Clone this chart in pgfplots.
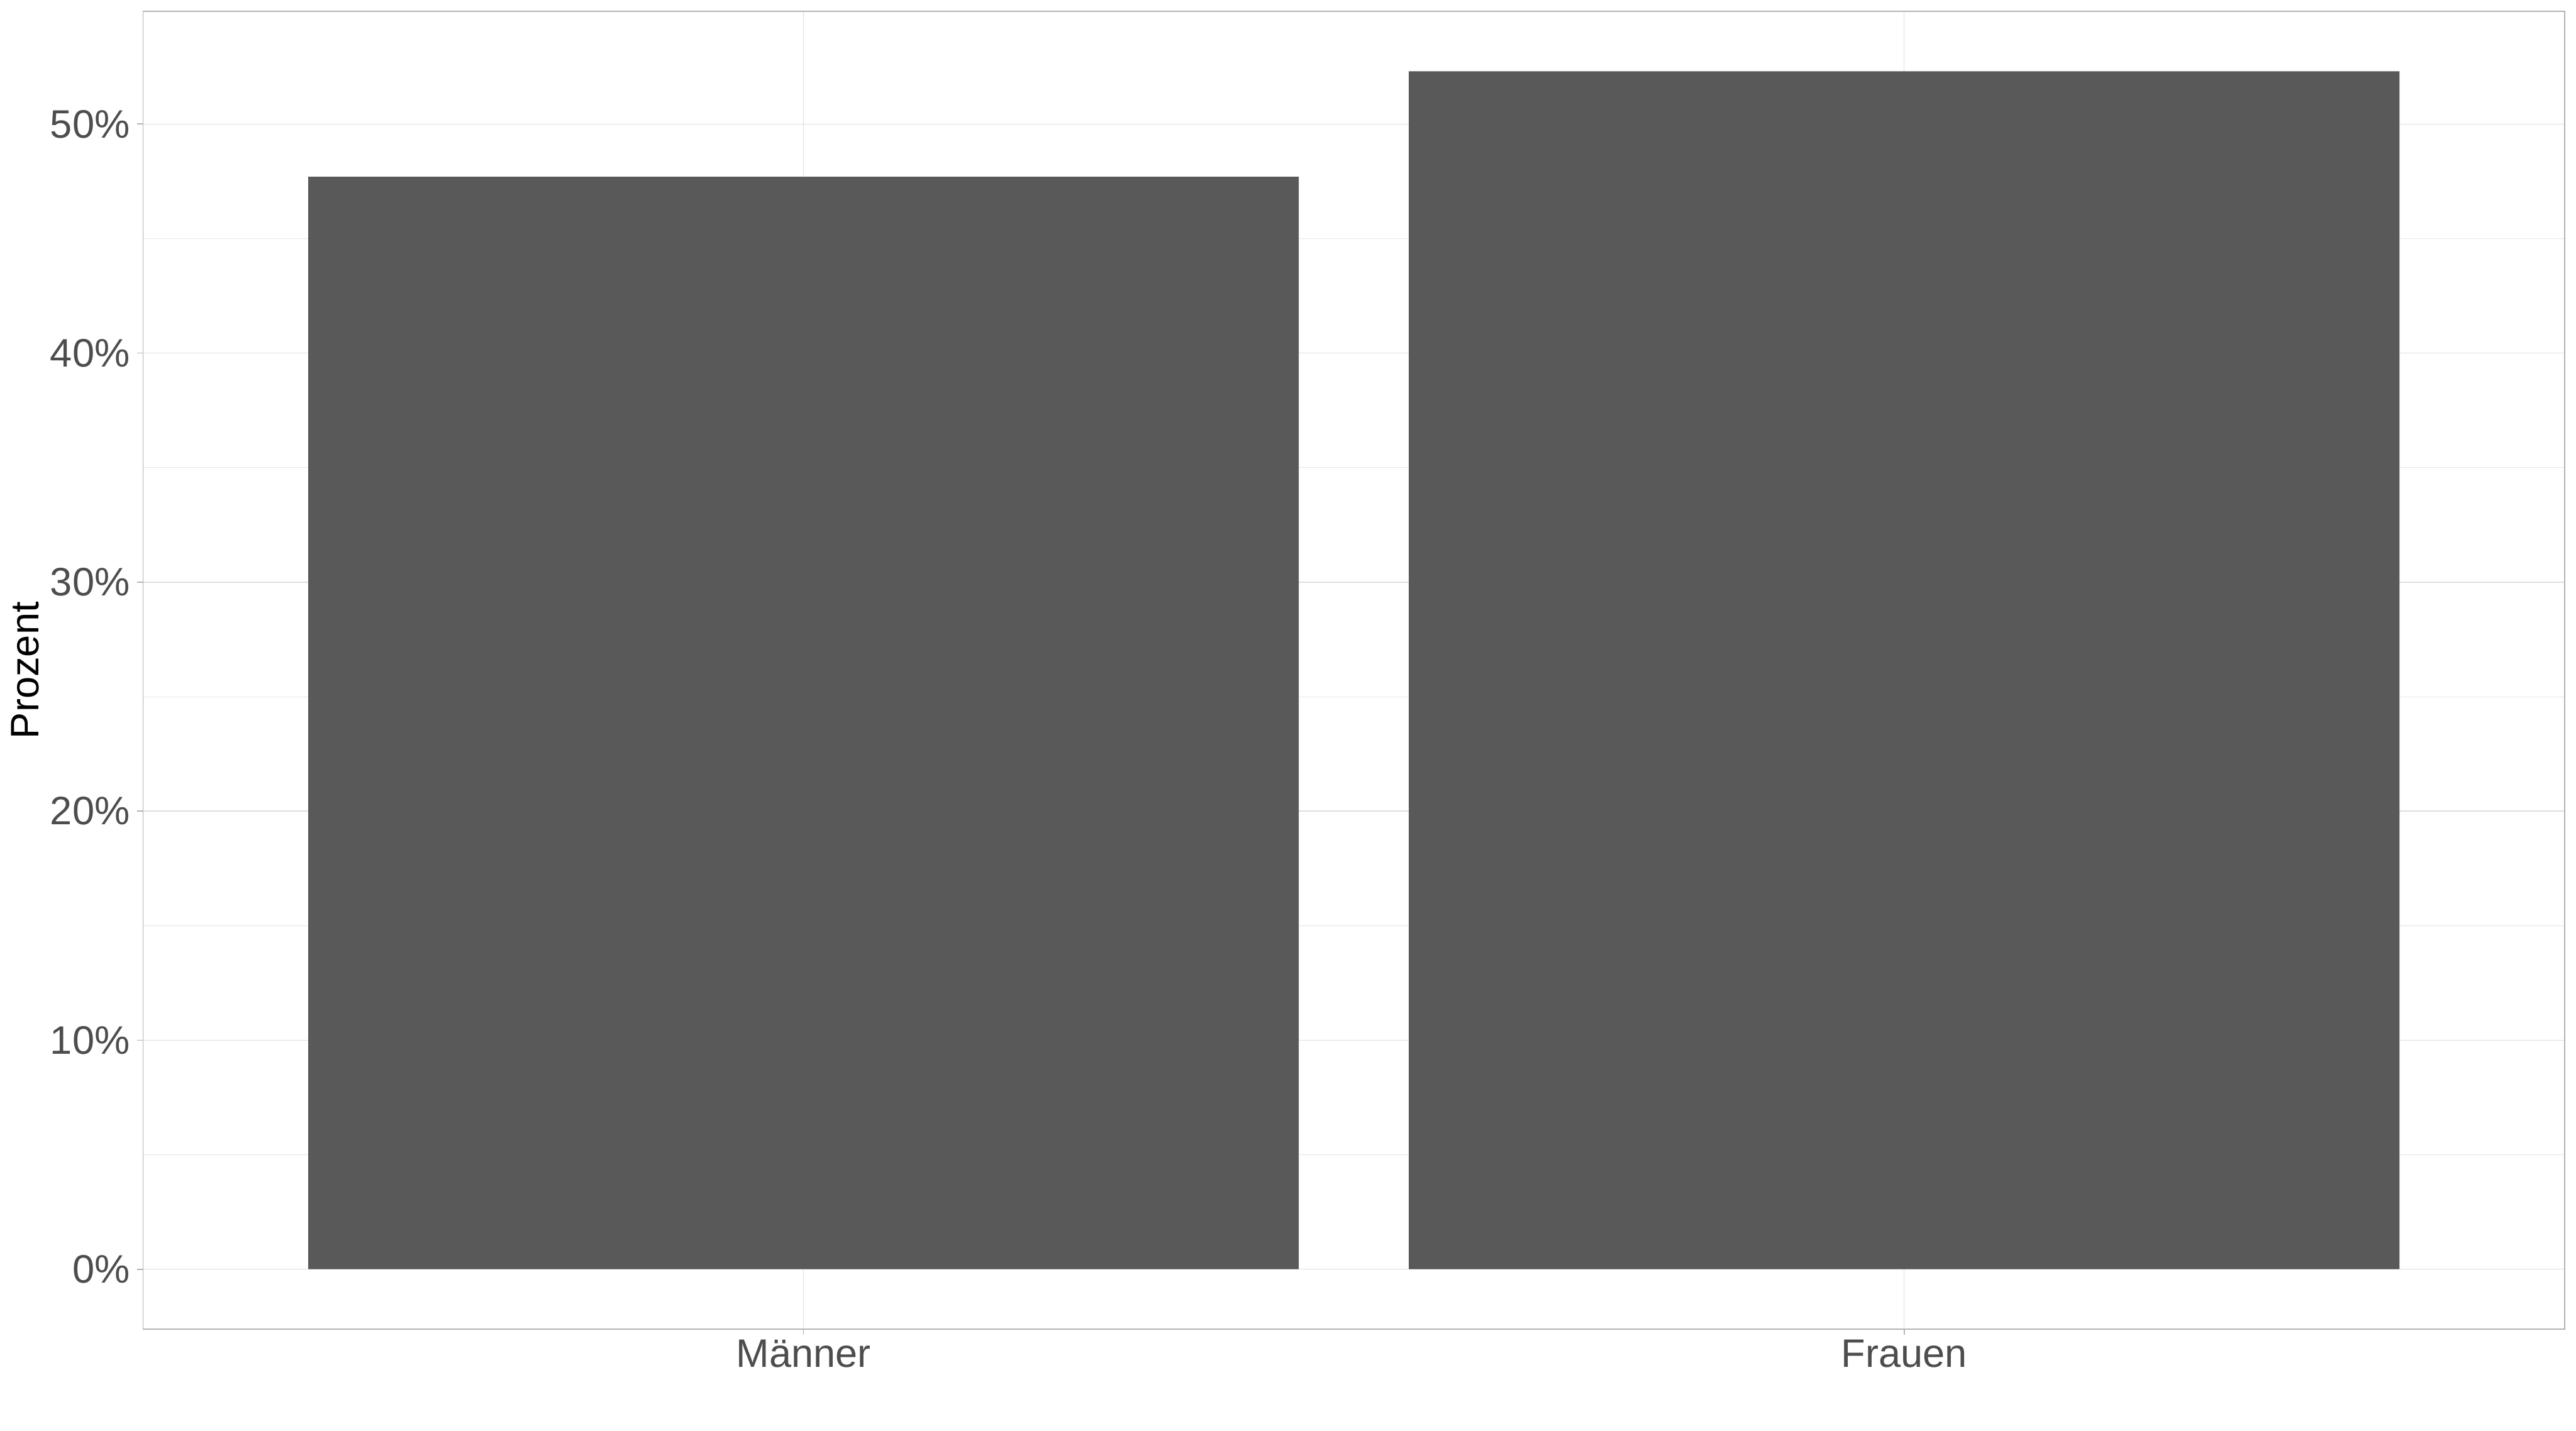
\documentclass[border=0pt]{standalone}
\usepackage{pgfplots}
\pgfplotsset{compat=1.18}
\usepackage{fontspec}
\setmainfont{Liberation Sans}
\definecolor{barfill}{HTML}{595959}
\definecolor{gridc}{HTML}{DEDEDE}
\definecolor{minorc}{HTML}{E6E6E6}
\definecolor{borderc}{HTML}{B3B3B3}
\definecolor{textc}{HTML}{4D4D4D}
\begin{document}
\begin{tikzpicture}
\useasboundingbox (-72bp,-51.12bp) rectangle (1224bp,668.88bp);
\begin{axis}[
  at={(0,0)}, anchor=south west,
  scale only axis, width=1218.24bp, height=663.12bp,
  xmin=0.4, xmax=2.6, ymin=-2.615, ymax=54.915,
  ybar=0pt, bar width=0.9, bar shift=0pt,
  xtick={1,2}, xticklabels={Männer,Frauen},
  ytick={0,10,20,30,40,50},
  yticklabels={0\%,10\%,20\%,30\%,40\%,50\%},
  minor ytick={5,15,25,35,45},
  xtick pos=left, ytick pos=left,
  grid=both,
  major grid style={color=gridc, line width=0.45bp},
  minor grid style={color=minorc, line width=0.3bp},
  axis line style={color=borderc, line width=0.5bp},
  tick style={color=borderc, line width=0.5bp},
  tick align=outside, major tick length=2.88bp, minor tick length=0pt,
  /pgf/number format/assume math mode=true,
  ticklabel style={font=\fontsize{20bp}{24bp}\selectfont, text=textc, inner sep=0pt},
  yticklabel style={anchor=east, xshift=-3.6bp},
  xticklabel style={anchor=north, yshift=-2.4bp},
  ylabel={Prozent},
  ylabel style={at={(axis description cs:-0.05457,0.5)}, anchor=north, inner sep=0pt,
    font=\fontsize{20bp}{24bp}\selectfont, text=black},
]
\addplot[fill=barfill, draw=none] coordinates {(1,47.7) (2,52.3)};
\end{axis}
\end{tikzpicture}
\end{document}
